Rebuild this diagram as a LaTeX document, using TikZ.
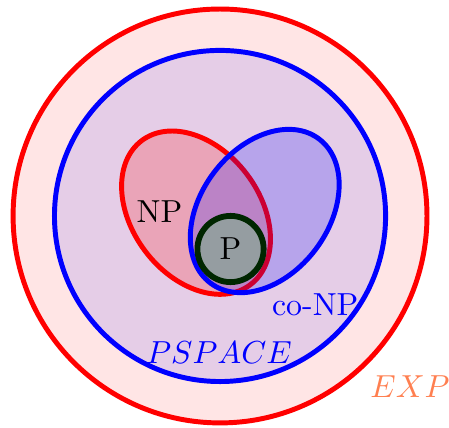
\documentclass[tikz,border=0pt]{standalone}
\definecolor{expcolor}{RGB}{255,127,80}
\definecolor{pgray}{RGB}{149,157,161}
\tikzset{
  classline/.style={line width=1.7pt},
  classlabel/.style={font=\fontsize{10.95}{13}\selectfont, inner sep=1pt},
}
\begin{document}
\begin{tikzpicture}
\useasboundingbox (-2.658,-2.561) rectangle (2.766,2.609);

\draw[classline, red, fill=red!10] (0,0) circle (2.5);
\draw[classline, blue, fill=blue, fill opacity=0.1] (0,0) circle (2.0);

\draw[classline, red, fill=red, fill opacity=0.2, rotate around={-53:(-0.29,0.04)}] (-0.29,0.04) ellipse (1.09 and 0.77);
\draw[classline, blue, fill=blue, fill opacity=0.2, rotate around={53:(0.54,0.06)}] (0.54,0.06) ellipse (1.09 and 0.77);

\node[classlabel, circle, line width=2pt, draw=green!15!black, fill=pgray, minimum size=0.8cm] (p) at (0.127,-0.399) {P};

\node[classlabel] (np) at (-0.731,0.048) {NP};
\node[classlabel, blue] (conp) at (1.15,-1.075) {co-NP};
\node[classlabel, blue] (pspace) at (-0.012,-1.655) {$PSPACE$};
\node[classlabel, expcolor] (exp) at (2.295,-2.06) {$EXP$};
\end{tikzpicture}
\end{document}
